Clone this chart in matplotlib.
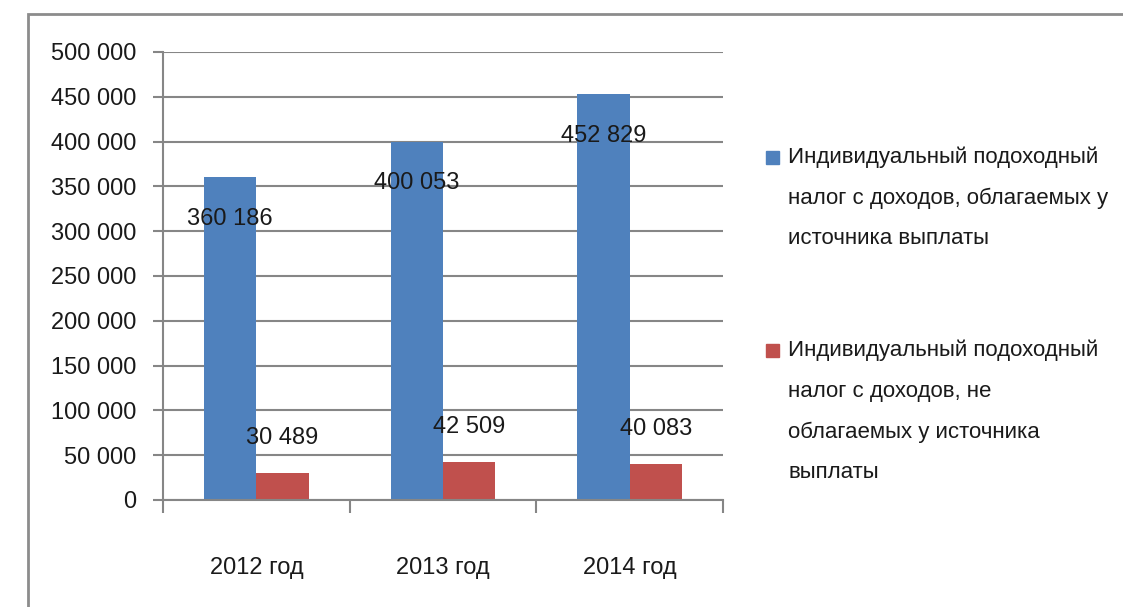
import matplotlib
matplotlib.use('Agg')
import matplotlib.pyplot as plt
from matplotlib.patches import Rectangle
from matplotlib.ticker import FuncFormatter, MultipleLocator

plt.rcParams['font.family'] = ['Liberation Sans', 'DejaVu Sans']

years = ['2012 год', '2013 год', '2014 год']
withheld = [360186, 400053, 452829]
not_withheld = [30489, 42509, 40083]
series_names = [
    'Индивидуальный подоходный\nналог с доходов, облагаемых у\nисточника выплаты',
    'Индивидуальный подоходный\nналог с доходов, не\nоблагаемых у источника\nвыплаты',
]
colors = ['#4F81BD', '#C0504D']

W, H = 1123, 607
fs = 17
txt = '#1a1a1a'
fig = plt.figure(figsize=(W / 100, H / 100), dpi=100)

# outer chart frame (cut off on the right and bottom like the original)
fig.patches.append(Rectangle((28 / W, -0.1), 1.2, (H - 14) / H + 0.1,
                             transform=fig.transFigure, fill=False,
                             edgecolor='#8c8c8c', lw=2))

ax = fig.add_axes([163 / W, 1 - 500 / H, 560 / W, 448 / H])

x = list(range(len(years)))
w = 0.28
fmt = lambda v: f'{v:,.0f}'.replace(',', ' ')

b1 = ax.bar([i - w / 2 for i in x], withheld, w, color=colors[0], zorder=2)
b2 = ax.bar([i + w / 2 for i in x], not_withheld, w, color=colors[1], zorder=2)

for rect, v in zip(b1, withheld):
    ax.annotate(fmt(v), (rect.get_x() + rect.get_width() / 2, v),
                xytext=(0, -30), textcoords='offset points',
                ha='center', va='center', fontsize=fs, color=txt)
for rect, v in zip(b2, not_withheld):
    ax.annotate(fmt(v), (rect.get_x() + rect.get_width() / 2, v),
                xytext=(0, 25), textcoords='offset points',
                ha='center', va='center', fontsize=fs, color=txt)

ax.set_xlim(-0.5, 2.5)
ax.set_ylim(0, 500000)
ax.yaxis.set_major_locator(MultipleLocator(50000))
ax.yaxis.set_major_formatter(FuncFormatter(lambda v, p: fmt(v)))
ax.grid(axis='y', color='#868686', lw=1.5, zorder=0)
ax.set_axisbelow(True)

ax.set_xticks(x)
ax.set_xticklabels(years)
ax.set_xticks([-0.5, 0.5, 1.5, 2.5], minor=True)
ax.tick_params(axis='x', which='major', length=0, pad=41, labelsize=fs,
               labelcolor=txt)
ax.tick_params(axis='x', which='minor', length=9, width=1.5, color='#868686')
ax.tick_params(axis='y', length=7, width=1.5, color='#868686', pad=12,
               labelsize=fs, labelcolor=txt)

for s in ['top', 'right']:
    ax.spines[s].set_visible(False)
for s in ['left', 'bottom']:
    ax.spines[s].set_color('#868686')
    ax.spines[s].set_linewidth(1.5)

# legend drawn by hand to the right of the plot, one line at a time
legend_tops = [157, 350]
step = 41
for name, col, y0 in zip(series_names, colors, legend_tops):
    fig.patches.append(Rectangle((766 / W, 1 - (y0 + 7) / H), 13 / W, 13 / H,
                                 transform=fig.transFigure, color=col))
    for k, line in enumerate(name.split('\n')):
        fig.text(788 / W, 1 - (y0 + k * step) / H, line, fontsize=16,
                 ha='left', va='center', color=txt)

fig.savefig('out.png', dpi=100)
